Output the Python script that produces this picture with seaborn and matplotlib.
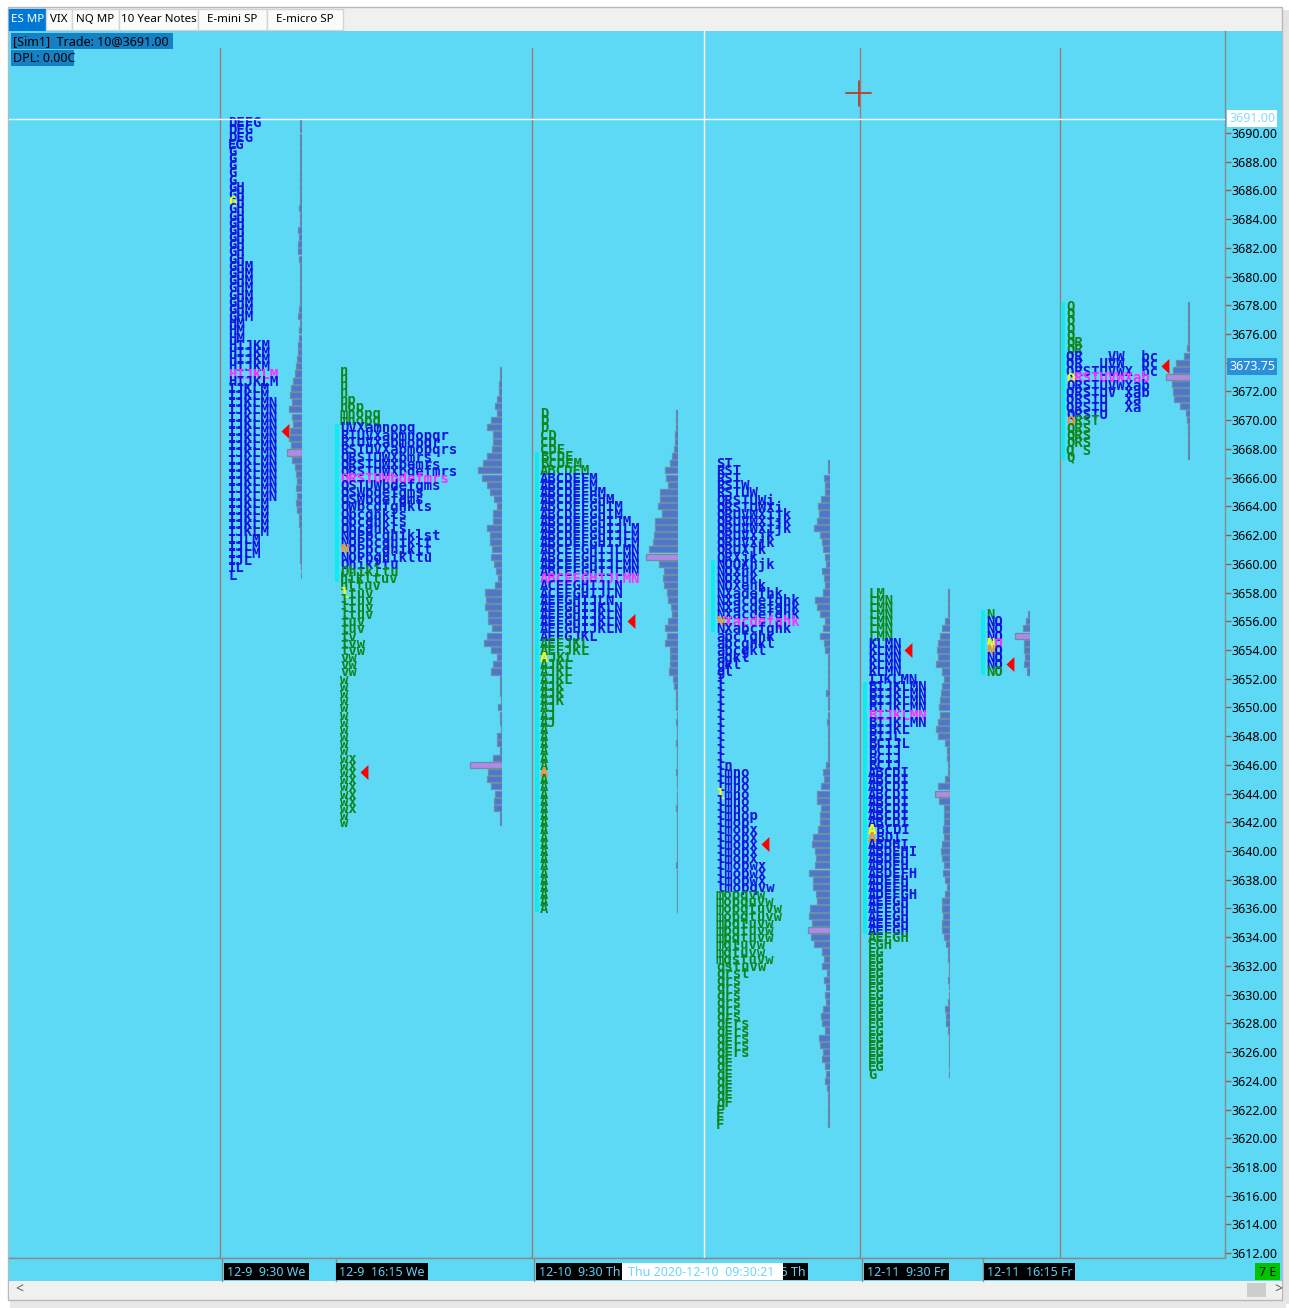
import numpy as np
import pandas as pd
import seaborn as sns
import matplotlib.pyplot as plt
import matplotlib.transforms as mtransforms
from matplotlib.colors import to_rgba
from matplotlib.patches import Rectangle

# ---------------- data: TPO letter ranges (top, bottom) per session ----------------
p1_tpo = {'D': (3690.75, 3689.75), 'E': (3690.75, 3689.25), 'F': (3690.75, 3690.75),
          'G': (3690.75, 3677.25), 'H': (3686.25, 3672.75), 'I': (3675.25, 3659.75),
          'J': (3675.25, 3660.25), 'K': (3675.25, 3662.25), 'L': (3673.25, 3659.25),
          'M': (3680.75, 3660.75), 'N': (3671.25, 3664.75)}
p2_tpo = {'N': (3662.0, 3660.5), 'O': (3665.0, 3659.5), 'P': (3662.0, 3660.5),
          'Q': (3667.5, 3665.5), 'R': (3669.0, 3666.0), 'S': (3668.0, 3664.5),
          'T': (3669.0, 3665.5), 'U': (3669.5, 3665.5), 'V': (3669.5, 3668.0),
          'W': (3667.5, 3664.0), 'X': (3669.5, 3666.5), 'a': (3669.5, 3668.0),
          'b': (3669.0, 3660.5), 'c': (3664.0, 3661.0), 'd': (3666.5, 3664.0),
          'e': (3667.0, 3664.5), 'f': (3666.5, 3664.0), 'g': (3665.5, 3660.5),
          'h': (3664.0, 3658.5), 'i': (3662.0, 3659.0), 'k': (3664.0, 3659.0),
          'l': (3664.0, 3656.5), 'm': (3670.5, 3664.5), 'n': (3673.5, 3669.0),
          'o': (3671.0, 3668.0), 'p': (3671.5, 3668.0), 'q': (3670.5, 3668.0),
          'r': (3669.0, 3666.0), 's': (3668.0, 3662.0), 't': (3662.0, 3654.0),
          'u': (3660.5, 3655.5), 'v': (3659.0, 3652.5), 'w': (3654.5, 3642.0),
          'x': (3646.5, 3643.0)}
p3_tpo = {'A': (3666.5, 3636.0), 'B': (3667.5, 3659.0), 'C': (3669.0, 3658.0),
          'D': (3670.5, 3661.5), 'E': (3668.0, 3654.0), 'F': (3666.0, 3654.0),
          'G': (3664.5, 3655.0), 'H': (3665.0, 3655.5), 'I': (3664.0, 3655.5),
          'J': (3663.0, 3649.0), 'K': (3657.0, 3650.5), 'L': (3662.5, 3652.0),
          'M': (3667.0, 3659.0), 'N': (3661.0, 3655.5)}
p4_tpo = {'N': (3660.0, 3655.5), 'O': (3660.0, 3658.5), 'Q': (3664.5, 3660.0),
          'R': (3666.5, 3660.5), 'S': (3667.0, 3664.0), 'T': (3667.0, 3664.0),
          'U': (3665.0, 3661.0), 'V': (3663.5, 3661.5), 'W': (3665.5, 3662.5),
          'X': (3664.0, 3655.5), 'a': (3658.0, 3653.5), 'b': (3655.5, 3654.0),
          'c': (3657.5, 3654.0), 'd': (3658.0, 3656.0), 'e': (3658.5, 3656.0),
          'f': (3658.0, 3655.0), 'g': (3657.5, 3652.5), 'h': (3660.0, 3654.5),
          'i': (3664.5, 3662.5), 'j': (3663.5, 3660.0), 'k': (3663.5, 3653.0),
          'l': (3654.5, 3637.5), 'm': (3645.5, 3632.5), 'n': (3646.0, 3642.5),
          'o': (3645.5, 3635.5), 'p': (3642.5, 3634.0), 'q': (3637.5, 3622.5),
          'F': (3628.0, 3621.0), 'r': (3631.5, 3626.0), 's': (3632.5, 3626.0),
          't': (3636.0, 3631.5), 'u': (3636.5, 3632.0), 'v': (3637.5, 3632.0),
          'w': (3639.0, 3632.0), 'x': (3641.5, 3638.0)}
p5_tpo = {'A': (3645.5, 3634.0), 'B': (3651.5, 3638.5), 'C': (3647.5, 3641.5),
          'D': (3645.5, 3637.0), 'E': (3640.0, 3625.0), 'F': (3638.5, 3634.0),
          'G': (3637.0, 3624.5), 'H': (3640.5, 3633.5), 'I': (3652.0, 3640.0),
          'J': (3652.0, 3646.0), 'K': (3654.5, 3648.5), 'L': (3658.0, 3647.5),
          'M': (3658.0, 3649.0), 'N': (3657.5, 3649.0)}
p6_tpo = {'N': (3656.5, 3652.5), 'O': (3656.0, 3652.5)}
p7_tpo = {'Q': (3678.0, 3667.5), 'R': (3675.5, 3668.5), 'S': (3673.5, 3668.0),
          'T': (3673.5, 3670.0), 'U': (3674.0, 3670.5), 'V': (3674.5, 3672.0),
          'W': (3674.5, 3672.5), 'X': (3673.5, 3671.0), 'a': (3673.0, 3671.0),
          'b': (3674.5, 3672.0), 'c': (3674.5, 3673.5)}

# volume profile per 0.5 row, from the top of each profile down
p1_vol = [2, 2, 2, 2, 2, 2, 2, 2, 2, 2, 2, 2, 3, 2, 2, 4, 3, 4, 4, 3, 2, 2, 2, 2,
          2, 2, 3, 4, 2, 3, 3, 4, 4, 5, 6, 7, 9, 11, 12, 10, 13, 10, 9, 12, 13, 11, 15,
          10, 7, 6, 5, 6, 5, 6, 5, 3, 3, 2, 2, 2, 2, 2, 1, 1]
p2_vol = [2, 2, 3, 3, 5, 7, 5, 11, 15, 9, 9, 10, 15, 19, 24, 20, 15, 12, 8, 5,
          9, 9, 15, 12, 12, 10, 11, 8, 6, 4, 7, 17, 16, 17, 14, 14, 10, 15, 18, 11,
          5, 9, 11, 2, 2, 2, 1, 4, 2, 2, 1, 5, 5, 2, 9, 32, 14, 15, 11, 7, 8, 8, 2, 2]
p3_vol = [2, 2, 2, 3, 3, 4, 6, 8, 13, 12, 10, 18, 18, 20, 16, 23, 23, 24, 25, 29,
          32, 19, 14, 15, 14, 11, 10, 7, 6, 10, 13, 11, 13, 8, 8, 8, 9, 5, 4, 2,
          2, 2, 1, 2, 1, 1, 2, 1, 1, 1, 2, 1, 1, 1, 1, 2, 1, 1, 1, 1,
          1, 1, 1, 2, 1, 1, 1, 1, 1, 1]
p4_vol = [2, 2, 6, 5, 5, 9, 12, 11, 13, 16, 10, 8, 7, 5, 4, 8, 6, 5, 7, 15,
          13, 10, 5, 7, 10, 6, 5, 2, 2, 2, 2, 2, 4, 2, 2, 2, 3, 2, 2, 2,
          2, 2, 4, 7, 6, 9, 13, 13, 9, 10, 10, 12, 17, 18, 15, 14, 15, 21, 17, 17,
          14, 13, 20, 21, 18, 22, 19, 16, 8, 6, 8, 3, 6, 4, 5, 4, 7, 9, 8, 5,
          11, 10, 7, 8, 5, 4, 5, 3, 2, 2, 2, 2, 2]
p5_vol = [2, 2, 2, 2, 5, 8, 10, 12, 13, 12, 14, 8, 6, 8, 9, 10, 11, 10, 12, 14,
          12, 5, 3, 3, 2, 2, 5, 12, 15, 11, 6, 6, 6, 7, 6, 8, 9, 8, 6, 7,
          5, 3, 5, 8, 8, 7, 8, 8, 6, 4, 2, 2, 1, 1, 2, 1, 1, 2,
          5, 4, 4, 2, 1, 1, 1, 1, 1, 1]
p6_vol = [2, 4, 7, 15, 6, 6, 5, 6, 3]
p7_vol = [2, 2, 2, 2, 2, 2, 3, 6, 14, 17, 24, 18, 17, 16, 10, 4, 3, 2, 2, 2, 2, 2]

# value area (high, low), TPO POC, open / close marks, red arrow price
va_ranges = [(3690.75, 3659.25), (3669.5, 3660.0), (3666.0, 3655.0), (3667.0, 3637.5),
             (3654.5, 3634.5), (3656.0, 3653.0), (3674.5, 3670.5)]
poc_prices = [3673.25, 3666.0, 3659.0, 3656.0, 3649.5, 3654.5, 3673.0]
open_prices = [3685.25, 3658.0, 3653.5, 3644.0, 3641.5, 3654.5, 3673.0]
close_prices = [None, 3661.0, 3645.5, 3656.0, 3641.0, 3654.0, 3670.0]
arrow_prices = [3669.25, 3645.5, 3656.0, 3640.5, 3654.0, 3653.0, 3673.75]
strip_ranges = [None, (3669.5, 3659.0), (3667.5, 3636.0), (3660.0, 3655.5),
                (3651.5, 3634.5), (3656.5, 3652.5), (3678.0, 3667.5)]

orders = ['ABCDEFGHIJKLMN', 'NOPQRSTUVWXabcdefghiklmnopqrstuvwx', 'ABCDEFGHIJKLMN',
          'NOQRSTUVWXabcdefghijklmnopqFrstuvwx', 'ABCDEFGHIJKLMN', 'NO', 'QRSTUVWXabc']
fixed_cols = [False, False, False, False, False, False, True]

tpos = [p1_tpo, p2_tpo, p3_tpo, p4_tpo, p5_tpo, p6_tpo, p7_tpo]
vols = [p1_vol, p2_vol, p3_vol, p4_vol, p5_vol, p6_vol, p7_vol]

price_ticks = np.arange(3612, 3691, 2)
session_lines = [220, 532, 860, 1060]
time_labels = [('12-9  9:30 We', 224, 309), ('12-9  16:15 We', 336, 428),
               ('12-10  9:30 Th', 536, 640), ('12-11  9:30 Fr', 864, 949),
               ('12-11  16:15 Fr', 984, 1075)]
tabs = [('ES MP', 9, 46), ('VIX', 46, 72), ('NQ MP', 72, 119), ('10 Year Notes', 119, 198),
        ('E-mini SP', 198, 267), ('E-micro SP', 267, 343)]

# layout (pixels): letter start x, volume bars right edge x
letter_x = [228, 340, 540, 716, 868, 986, 1066]
vol_right = [302, 502, 678, 830, 950, 1030, 1190]

W, H = 1289, 1308
BG = '#5dd9f6'
BLUE = '#1212e0'
GREEN = '#10861a'
MAGENTA = '#ff2cff'
BAR = '#3a6ee0'
POC_BAR = '#b07af2'
YLO, YHI = 3611.66, 3697.10
FS = 10
CHAR_W = 0.602 * FS * 100 / 72

sns.set_style('white')
plt.rcParams['font.family'] = ['Noto Sans', 'DejaVu Sans']

fig = plt.figure(figsize=(W / 100, H / 100), dpi=100, facecolor='white')

# background chrome in pixel coordinates
bg = fig.add_axes([0, 0, 1, 1], zorder=0)
bg.set_xlim(0, W)
bg.set_ylim(H, 0)
bg.axis('off')
bg.add_patch(Rectangle((1282, 10), 7, 1294, fc='#e4e4e4', ec='none'))
bg.add_patch(Rectangle((10, 1300), 1276, 8, fc='#e8e8e8', ec='none'))
bg.add_patch(Rectangle((8, 7), 1274, 1293, fc='#f0f0f0', ec='#b8b8b8', lw=1))
bg.add_patch(Rectangle((9, 31), 1273, 1250, fc=BG, ec='none'))
for name, x0, x1 in tabs:
    sel = name == 'ES MP'
    bg.add_patch(Rectangle((x0, 9), x1 - x0, 21, fc='#0078d7' if sel else '#fbfbfb',
                           ec='#0078d7' if sel else '#d4d4d4', lw=1))
    bg.text((x0 + x1) / 2, 19.5, name, ha='center', va='center', fontsize=8.3,
            color='white' if sel else 'black')

# main chart axes: x in pixels, y in price
ax = fig.add_axes([9 / W, (H - 1258) / H, (1225 - 9) / W, (1258 - 31) / H], zorder=1)
ax.set_facecolor(BG)
ax.set_xlim(9, 1225)
ax.set_ylim(YLO, YHI)
ax.set_xticks([])
ax.yaxis.tick_right()
ax.set_yticks(price_ticks)
ax.set_yticklabels([f'{v:.2f}' for v in price_ticks])
ax.tick_params(axis='y', direction='out', length=4, width=1, color='#9a5a48',
               pad=1, labelsize=9, labelcolor='black')
for side in ['left', 'top']:
    ax.spines[side].set_visible(False)
for side in ['right', 'bottom']:
    ax.spines[side].set_color('#8a8a8a')
    ax.spines[side].set_linewidth(1)

for x in session_lines:
    ax.axvline(x, ymin=0, ymax=(1258 - 48) / (1258 - 31), color='#9c7e76', lw=1, zorder=1)

txt_tr = mtransforms.offset_copy(ax.transData, fig=fig, x=0, y=-5.0, units='dots')
mono = 'DejaVu Sans Mono'
arrow_marker = [(0, 0), (1, 0.95), (1, -0.95)]

for i, tpo in enumerate(tpos):
    hi = max(v[0] for v in tpo.values())
    lo = min(v[1] for v in tpo.values())
    n = int(round((hi - lo) / 0.5)) + 1
    rows = []
    for k in range(n):
        price = hi - 0.5 * k
        s = ''
        for ch in orders[i]:
            if ch not in tpo:
                continue
            top, bot = tpo[ch]
            if bot - 1e-6 <= price <= top + 1e-6:
                s += ch
            elif fixed_cols[i]:
                s += ' '
        rows.append((price, s.rstrip()))

    va_hi, va_lo = va_ranges[i]
    x0 = letter_x[i]
    for price, s in rows:
        if not s:
            continue
        if abs(price - poc_prices[i]) < 1e-6:
            color = MAGENTA
        elif va_lo - 1e-6 <= price <= va_hi + 1e-6:
            color = BLUE
        else:
            color = GREEN
        mark = None
        if close_prices[i] is not None and abs(price - close_prices[i]) < 1e-6:
            mark = '#ff8a1c'
        if abs(price - open_prices[i]) < 1e-6:
            mark = '#ffff00'
        body = (' ' + s[1:]) if mark else s
        ax.text(x0, price, body, color=color, fontsize=FS, family=mono, fontweight='bold',
                transform=txt_tr, ha='left', va='baseline', zorder=3)
        if mark:
            ax.text(x0, price, s[0], color=mark, fontsize=FS, family=mono, fontweight='bold',
                    transform=txt_tr, ha='left', va='baseline', zorder=3)

    # value area strip
    if strip_ranges[i] is not None:
        s_hi, s_lo = strip_ranges[i]
        ax.vlines(x0 - 3, s_lo - 0.25, s_hi + 0.25, color='#12eaf2', lw=3, zorder=2)

    # red arrow after the row text
    prices = np.array([r[0] for r in rows])
    j = int(np.argmin(np.abs(prices - arrow_prices[i])))
    ax_x = x0 + len(rows[j][1]) * CHAR_W + 3
    ax.scatter([ax_x], [arrow_prices[i]], marker=arrow_marker, s=130, color='#ff0000',
               linewidths=0, zorder=4)

    # volume profile
    vol = vols[i]
    vp = hi - 0.5 * np.arange(len(vol))
    df = pd.DataFrame({'price': vp, 'vol': vol, 'poc': [v == max(vol) for v in vol]})
    iax = ax.inset_axes([vol_right[i] - 45, YLO, 45, YHI - YLO], transform=ax.transData)
    sns.barplot(data=df, x='vol', y='price', hue='poc', orient='y', native_scale=True,
                palette={False: BAR, True: POC_BAR}, dodge=False, legend=False,
                errorbar=None, width=0.85, edgecolor='#6c8ea4', linewidth=0.9, ax=iax)
    for patch in iax.patches:
        if np.allclose(patch.get_facecolor(), to_rgba(POC_BAR), atol=0.02):
            patch.set_edgecolor(POC_BAR)
    iax.set_xlim(45, 0)
    iax.set_ylim(YLO, YHI)
    iax.set_xlabel('')
    iax.set_ylabel('')
    iax.axis('off')

# crosshair and highlighted price labels
ax.axhline(3691.0, color='white', lw=1, zorder=6)
ax.axvline(704, color='white', lw=1, zorder=6)
lab_tr = mtransforms.blended_transform_factory(ax.transAxes, ax.transData)
ax.text(1.0035, 3691.0, '3691.00', transform=lab_tr, ha='left', va='center', fontsize=9,
        color='#86dcf8', clip_on=False, zorder=10,
        bbox=dict(boxstyle='square,pad=0.15', fc='white', ec='none'))
ax.text(1.0035, 3673.75, '3673.75', transform=lab_tr, ha='left', va='center', fontsize=9,
        color='white', clip_on=False, zorder=10,
        bbox=dict(boxstyle='square,pad=0.15', fc='#2a8fd8', ec='none'))

# foreground chrome in pixel coordinates
fg = fig.add_axes([0, 0, 1, 1], zorder=2)
fg.set_xlim(0, W)
fg.set_ylim(H, 0)
fg.axis('off')
fg.add_patch(Rectangle((11, 33), 162, 16, fc='#1581c4', ec='none'))
fg.text(13, 41.5, '[Sim1]  Trade: 10@3691.00', va='center', fontsize=9, color='black')
fg.add_patch(Rectangle((11, 50), 63, 16, fc='#1581c4', ec='none'))
fg.text(13, 58.5, 'DPL: 0.00C', va='center', fontsize=9, color='black')
fg.plot([846, 871], [93, 93], color='#b5402a', lw=1.3)
fg.plot([858.5, 858.5], [81, 106], color='#b5402a', lw=1.3)

# time band
fg.add_patch(Rectangle((9, 1258), 1273, 23, fc=BG, ec='none', zorder=1))
fg.plot([9, 1225], [1258, 1258], color='#8a8a8a', lw=1, zorder=1.5)
fg.plot([1225, 1225], [1250, 1258], color='#8a8a8a', lw=1, zorder=1.5)
for x in [222, 336, 534, 862, 983]:
    fg.plot([x, x], [1258, 1281], color='#8a8a8a', lw=1, zorder=1.5)
for txt, x0, x1 in time_labels:
    fg.add_patch(Rectangle((x0, 1263), x1 - x0, 17, fc='black', ec='none', zorder=2))
    fg.text(x0 + 3, 1272, txt, va='center', fontsize=9, color='#66cdf2', zorder=2.5)
fg.add_patch(Rectangle((712, 1263), 96, 17, fc='black', ec='none', zorder=2))
fg.text(806, 1272, '12-10  16:15 Th', ha='right', va='center', fontsize=9,
        color='#66cdf2', zorder=2.5)
fg.add_patch(Rectangle((622, 1263), 161, 17, fc='white', ec='none', zorder=3))
fg.text(628, 1272, 'Thu 2020-12-10  09:30:21', va='center', fontsize=9,
        color='#6fd6f6', zorder=3.5)
fg.add_patch(Rectangle((1255, 1263), 25, 17, fc='#00c400', ec='none', zorder=2))
fg.text(1259, 1272, '7 E', va='center', fontsize=9, color='black', zorder=2.5)

# scrollbar
fg.add_patch(Rectangle((9, 1282), 1273, 16, fc='#f0f0f0', ec='none'))
fg.add_patch(Rectangle((1247, 1283), 19, 14, fc='#cdcdcd', ec='none'))
fg.text(15, 1290, '<', va='center', ha='left', fontsize=10, color='#606060')
fg.text(1274, 1290, '>', va='center', ha='left', fontsize=10, color='#606060')

fig.savefig('out.png', dpi=100, facecolor=fig.get_facecolor())
